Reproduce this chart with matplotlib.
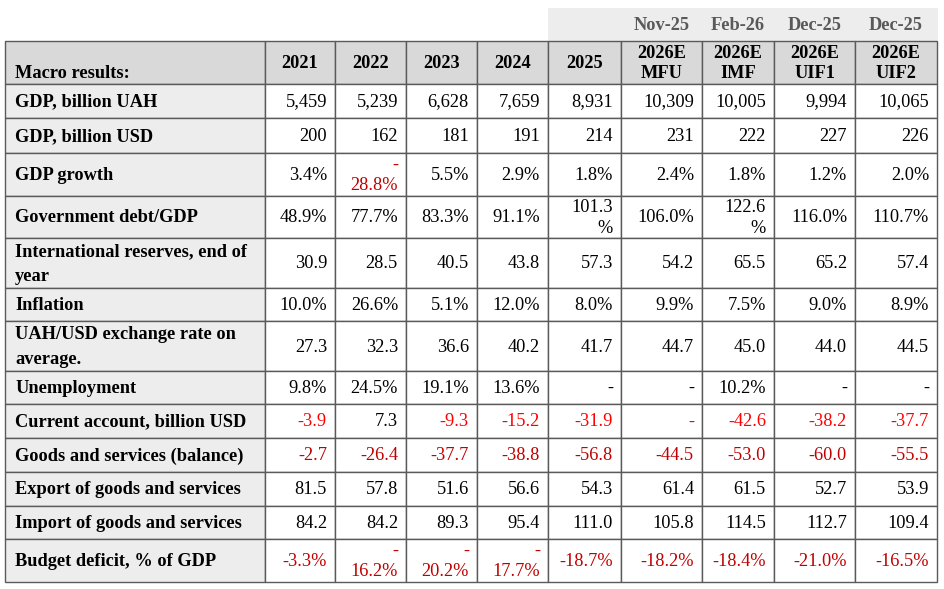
import matplotlib
matplotlib.use("Agg")
import matplotlib.pyplot as plt
from matplotlib.patches import Rectangle

# ---- data ----
col_dates = ["", "", "", "", "", "Nov-25", "Feb-26", "Dec-25", "Dec-25"]
col_heads = ["2021", "2022", "2023", "2024", "2025",
             "2026E\nMFU", "2026E\nIMF", "2026E\nUIF1", "2026E\nUIF2"]
row_labels = [
    "GDP, billion UAH",
    "GDP, billion USD",
    "GDP growth",
    "Government debt/GDP",
    "International reserves, end of\nyear",
    "Inflation",
    "UAH/USD exchange rate on\naverage.",
    "Unemployment",
    "Current account, billion USD",
    "Goods and services (balance)",
    "Export of goods and services",
    "Import of goods and services",
    "Budget deficit, % of GDP",
]
gdp_uah = ["5,459", "5,239", "6,628", "7,659", "8,931", "10,309", "10,005", "9,994", "10,065"]
gdp_usd = ["200", "162", "181", "191", "214", "231", "222", "227", "226"]
gdp_growth = ["3.4%", "-\n28.8%", "5.5%", "2.9%", "1.8%", "2.4%", "1.8%", "1.2%", "2.0%"]
gov_debt = ["48.9%", "77.7%", "83.3%", "91.1%", "101.3\n%", "106.0%", "122.6\n%", "116.0%", "110.7%"]
reserves = ["30.9", "28.5", "40.5", "43.8", "57.3", "54.2", "65.5", "65.2", "57.4"]
inflation = ["10.0%", "26.6%", "5.1%", "12.0%", "8.0%", "9.9%", "7.5%", "9.0%", "8.9%"]
fx_rate = ["27.3", "32.3", "36.6", "40.2", "41.7", "44.7", "45.0", "44.0", "44.5"]
unemployment = ["9.8%", "24.5%", "19.1%", "13.6%", "-", "-", "10.2%", "-", "-"]
current_acc = ["-3.9", "7.3", "-9.3", "-15.2", "-31.9", "-", "-42.6", "-38.2", "-37.7"]
goods_bal = ["-2.7", "-26.4", "-37.7", "-38.8", "-56.8", "-44.5", "-53.0", "-60.0", "-55.5"]
exports = ["81.5", "57.8", "51.6", "56.6", "54.3", "61.4", "61.5", "52.7", "53.9"]
imports = ["84.2", "84.2", "89.3", "95.4", "111.0", "105.8", "114.5", "112.7", "109.4"]
budget = ["-3.3%", "-\n16.2%", "-\n20.2%", "-\n17.7%", "-18.7%", "-18.2%", "-18.4%", "-21.0%", "-16.5%"]
rows = [gdp_uah, gdp_usd, gdp_growth, gov_debt, reserves, inflation, fx_rate,
        unemployment, current_acc, goods_bal, exports, imports, budget]
bright_red_rows = {8}

# ---- layout (pixels) ----
W, H = 944, 589
col_edges = [5, 265, 335, 406, 477, 548, 621, 702, 774, 855, 937]
row_edges = [41, 84, 118, 153, 196, 238, 288, 321, 371, 404, 438, 472, 506, 539, 582]
band_top = 8
border = "#5a5a5a"
head_bg = "#d9d9d9"
label_bg = "#ededed"
band_bg = "#ededed"
red = "#c00000"
bright_red = "#ff0000"
fs = 13.2
font = "Liberation Serif"

fig = plt.figure(figsize=(W / 100, H / 100), dpi=100)
ax = fig.add_axes([0, 0, 1, 1])
ax.set_xlim(0, W)
ax.set_ylim(H, 0)
ax.axis("off")

# top date band
ax.add_patch(Rectangle((col_edges[5], band_top), col_edges[-1] - col_edges[5] + 1,
                       row_edges[0] - band_top, facecolor=band_bg, edgecolor="none"))
for j, d in enumerate(col_dates):
    if d:
        xc = (col_edges[j + 1] + col_edges[j + 2]) / 2
        ax.text(xc, (band_top + row_edges[0]) / 2 + 1, d, ha="center", va="center",
                fontsize=fs, fontweight="bold", color="#595959", family=font)

# cells
n_rows = len(row_labels) + 1
for i in range(n_rows):
    y0, y1 = row_edges[i], row_edges[i + 1]
    for j in range(len(col_edges) - 1):
        x0, x1 = col_edges[j], col_edges[j + 1]
        if i == 0:
            fc = head_bg
        elif j == 0:
            fc = label_bg
        else:
            fc = "white"
        ax.add_patch(Rectangle((x0, y0), x1 - x0, y1 - y0, facecolor=fc,
                               edgecolor=border, linewidth=1.0))

# header row
ax.text(col_edges[0] + 10, row_edges[1] - 6, "Macro results:", ha="left", va="baseline",
        fontsize=fs, fontweight="bold", family=font)
for j, h in enumerate(col_heads):
    xc = (col_edges[j + 1] + col_edges[j + 2]) / 2
    ax.text(xc, (row_edges[0] + row_edges[1]) / 2 + 1, h, ha="center", va="center",
            fontsize=fs, fontweight="bold", family=font, linespacing=1.16)

# body
for i, (lab, vals) in enumerate(zip(row_labels, rows)):
    y0, y1 = row_edges[i + 1], row_edges[i + 2]
    yc = (y0 + y1) / 2 + 1
    ax.text(col_edges[0] + 10, yc, lab, ha="left", va="center", fontsize=fs,
            fontweight="bold", family=font, linespacing=1.55)
    for j, v in enumerate(vals):
        neg = v.startswith("-") and v != "-"
        if i in bright_red_rows and v.startswith("-"):
            c = bright_red
        elif neg:
            c = red
        else:
            c = "black"
        ax.text(col_edges[j + 2] - 8, yc, v, ha="right", va="center", fontsize=fs,
                family=font, color=c, linespacing=1.28, multialignment="right")

fig.savefig("out.png", dpi=100, facecolor="white")
